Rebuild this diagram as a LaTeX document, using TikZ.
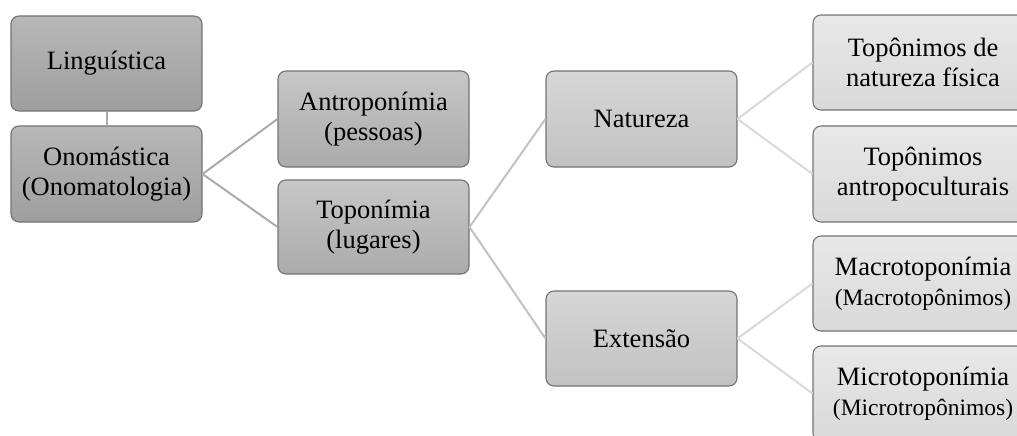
\documentclass[tikz,border=0pt]{standalone}
\usepackage{fontspec}
\setmainfont{Liberation Serif}
\begin{document}
\begin{tikzpicture}[x=1pt,y=-1pt,
  box/.style={draw=black!55, line width=1.1pt, rounded corners=8pt, align=center,
    inner sep=0pt, font=\fontsize{26.5}{30}\selectfont, text=black},
  lvA/.style={box, top color=black!28, bottom color=black!38, minimum width=191pt, minimum height=95pt},
  lvB/.style={box, top color=black!22, bottom color=black!33, minimum width=191pt, minimum height=95pt},
  lvC/.style={box, top color=black!16, bottom color=black!24, minimum width=191pt, minimum height=95pt},
  lvD/.style={box, top color=black!9, bottom color=black!15, minimum width=220pt, minimum height=95pt},
  small/.style={font=\fontsize{23.5}{26}\selectfont},
  cA/.style={draw=black!33, line width=2pt},
  cB/.style={draw=black!24, line width=2pt},
  cC/.style={draw=black!15, line width=2pt}
]
\useasboundingbox (0,0) rectangle (1017,436);
\clip (0,0) rectangle (1017,436);

\node[lvA] (ling) at (106.5,63.5) {Linguística};
\node[lvA, minimum height=96pt] (onom) at (106.5,174) {Onomástica\\(Onomatologia)};

\node[lvB, minimum height=96pt] (antr) at (373.5,119) {Antroponímia\\(pessoas)};
\node[lvB, minimum height=94pt] (topo) at (373.5,227) {Toponímia\\(lugares)};

\node[lvC, minimum height=96pt] (natu) at (641.5,119) {Natureza};
\node[lvC] (exte) at (641.5,338.5) {Extensão};

\node[lvD] (tnf) at (923,62.5) {Topônimos de\\natureza física};
\node[lvD, minimum height=96pt] (tan) at (923,174) {Topônimos\\antropoculturais};
\node[lvD] (mac) at (923,283.5) {Macrotoponímia\\{\fontsize{23.5}{26}\selectfont(Macrotopônimos)}};
\node[lvD] (mic) at (923,393.5) {Microtoponímia\\{\fontsize{23.5}{26}\selectfont(Microtropônimos)}};

\draw[cA] (ling.south) -- (onom.north);
\draw[cA] (onom.east) -- (antr.west);
\draw[cA] (onom.east) -- (topo.west);
\draw[cB] (topo.east) -- (natu.west);
\draw[cB] (topo.east) -- (exte.west);
\draw[cC] (natu.east) -- (tnf.west);
\draw[cC] (natu.east) -- (tan.west);
\draw[cC] (exte.east) -- (mac.west);
\draw[cC] (exte.east) -- (mic.west);
\end{tikzpicture}
\end{document}
